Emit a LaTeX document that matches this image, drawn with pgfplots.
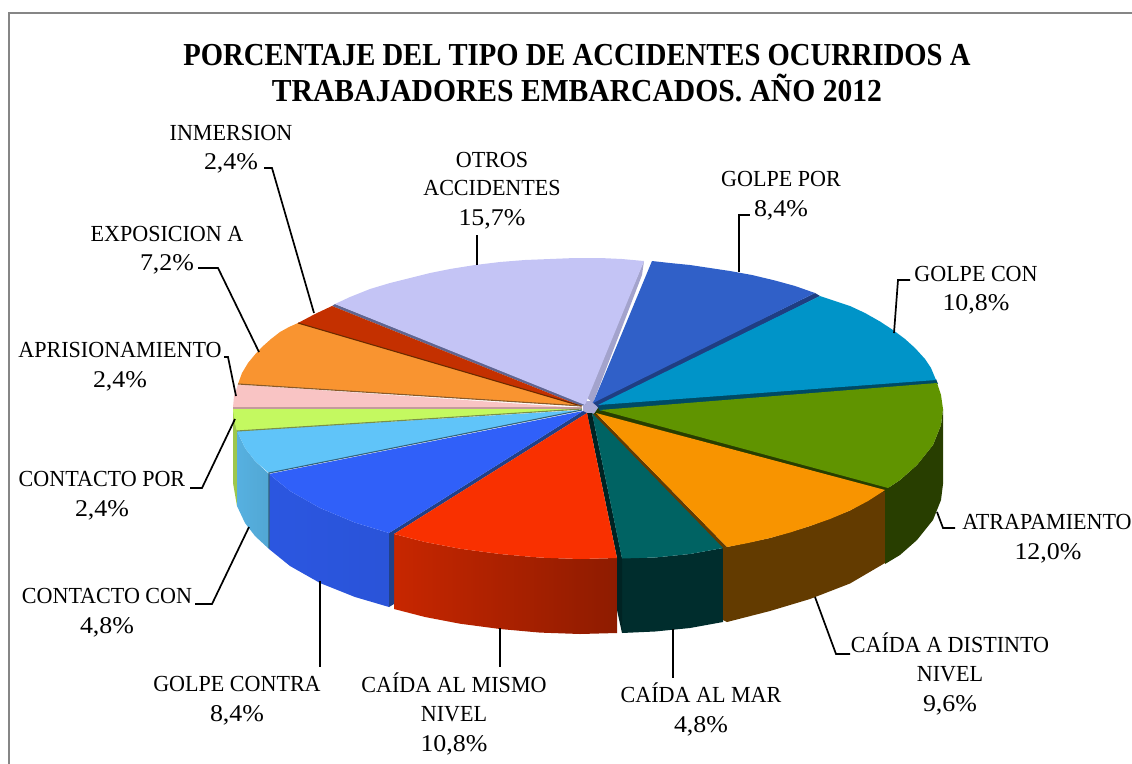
\documentclass[border=0pt]{standalone}
\usepackage{fontspec}
\setmainfont{Liberation Serif}
\usepackage{graphicx}
\usepackage{pgfplots}
\pgfplotsset{compat=1.18}
\definecolor{cOtros}{HTML}{C4C4F5}
\definecolor{cPor}{HTML}{3060C8}
\definecolor{cCon}{HTML}{0094C8}
\definecolor{cAtr}{HTML}{609400}
\definecolor{cDis}{HTML}{F89400}
\definecolor{cMar}{HTML}{006363}
\definecolor{cMis}{HTML}{F93000}
\definecolor{cCtr}{HTML}{3060F9}
\definecolor{cCco}{HTML}{60C4F9}
\definecolor{cCpo}{HTML}{C4F960}
\definecolor{cApr}{HTML}{F9C4C4}
\definecolor{cExp}{HTML}{F99430}
\definecolor{cInm}{HTML}{C43000}
\definecolor{frameG}{HTML}{868686}
\definecolor{lavA}{HTML}{A3A3CC}
\definecolor{lavB}{HTML}{A9A9D6}
\definecolor{lavC}{HTML}{5F6590}
\definecolor{seA}{HTML}{6B2A00}
\definecolor{seB}{HTML}{8A5A2A}
\definecolor{seC}{HTML}{C49B9B}
\definecolor{seD}{HTML}{7A8F4A}
\definecolor{seE}{HTML}{33617A}
\newcommand\poly[2]{\addplot[fill=#1,draw=none,no markers,forget plot] coordinates {#2};}
\newcommand\grad[3]{\addplot[left color=#1,right color=#2,draw=none,no markers,forget plot] coordinates {#3};}
\newcommand\leader[1]{\addplot[black,line width=1.7pt,no markers,forget plot] coordinates {#1};}
\newcommand\seam[2]{\addplot[#1,line width=1.1pt,no markers,forget plot] coordinates {#2};}
\newcommand\lab[3]{\node[anchor=base,inner sep=0pt,font=\fontsize{23}{23}\selectfont,yshift=-7pt] at (axis cs:#1,#2) {\scalebox{0.96}[1]{#3}};}
\newcommand\pct[3]{\node[anchor=base,inner sep=0pt,font=\fontsize{24}{24}\selectfont,yshift=-8pt] at (axis cs:#1,#2) {\scalebox{1.08}[1]{#3}};}
\newcommand\ttl[4]{\node[anchor=base,inner sep=0pt,font=\fontsize{32}{32}\selectfont\bfseries,yshift=-11pt] at (axis cs:#1,#2) {\scalebox{#3}[1]{#4}};}
\begin{document}
\begin{tikzpicture}
\useasboundingbox (0,0) rectangle (1132pt,763pt);
\begin{axis}[at={(0,0)},anchor=south west,scale only axis,width=1132pt,height=763pt,
  xmin=0,xmax=1132,ymin=0,ymax=763,y dir=reverse,hide axis,clip=true]
% frame
\addplot[frameG,line width=2pt,no markers,forget plot] coordinates {(9,770)(9,13)(1140,13)};
% outer walls
\poly{cCpo!80!black}{(233,408.5)(233,483)(237,506)(237,431)}
\grad{cCco!90!black}{cCco!85!black}{(237,431)(245,448)(255,461)(269,474)(269,549)(255,536)(245,523)(237,506)}
\grad{cCtr!90!black}{cCtr!87!black}{(269,474)(290,491)(320,508)(355,522.6)(389,533)(389,607)(355,597)(320,583)(290,566)(269,549)}
\grad{cMis!80!black}{cMis!57!black}{(394,534)(425,542)(460,548.7)(500,554)(540,557.6)(580,559)(617,558)(617,633)(580,634)(540,632.6)(500,629)(460,623.7)(425,617)(394,609)}
\poly{cMar!45!black}{(622,558)(655,557.5)(690,554)(723,548)(723,622)(690,628)(655,631.5)(622,633)}
\poly{cDis!40!black}{(723,548)(727,547)(770,538)(810,526)(850,510.5)(885,490)(885,563)(850,583.5)(810,599)(770,611)(727,622)(723,620)}
\poly{cAtr!42!black}{(885,490)(900,480)(917,465)(933,445)(941,425)(943,409)(943,484)(941,500)(933,520)(917,540)(900,555)(885,564)}
% centre
\poly{lavB}{(583,401)(600,401)(602,414)(592,436)(583,412)}
% radial walls
\poly{cPor!68!black}{(583,411)(389,533)(389,607)(394,604)(394,534)(587,413)}
\poly{cMar!35!black}{(592,413)(622,558)(622,633)(617,610)(617,558)(587,413)}
\poly{cDis!40!black}{(596,413)(727,547)(723,549)(592,414)}
\poly{cAtr!42!black}{(598,408)(889,487)(886,492)(594,414)}
\poly{cCon!50!black}{(596,404)(936,379)(938,384)(600,411)}
\poly{cPor!65!black}{(592,402)(815,293)(820,296)(598,407)}
\poly{lavA}{(644,261)(642,275)(593,403)(586,397)}
\poly{lavC}{(335,304)(332,306)(581,406)(586,404)}
% tops
\poly{cOtros}{(585,405)(335,304)(350,297)(370,289)(390,283)(410,278)(430,273)(450,269)(475,265)(500,262)(525,260)(550,259)(575,258)(600,258)(622,259)(644,261)}
\poly{cPor}{(593,403)(652,261)(670,263)(690,265)(710,268)(730,271)(752,275)(775,280.5)(795,286)(815,293)}
\poly{cCon}{(598,405)(820,296)(835,301)(850,306)(865,313)(880,321.5)(893,330)(905,339)(915,348)(925,359)(931,368)(936,380)}
\poly{cAtr}{(600,410)(937,383)(941,395)(943,409)(941,425)(933,445)(917,465)(900,480)(888,488)}
\poly{cDis}{(596,413)(885,490)(868,501)(850,510.5)(830,519)(810,526)(790,532.5)(770,538)(748,543)(727,547)}
\poly{cMar}{(592,413)(723,548)(690,554)(655,557.5)(622,558.5)}
\poly{cMis}{(587,413)(617,558)(580,559)(540,557.6)(500,554)(460,548.7)(425,542)(394,534)}
\poly{cCtr}{(583,411)(389,533)(355,522.6)(320,508)(290,491)(269,474)}
\poly{cCco}{(582,410)(269,473)(255,461)(245,448)(237,431)}
\poly{cCpo}{(582,409)(237,431)(234,420)(233,408.5)}
\poly{cApr}{(582,408)(233,407.5)(234,396)(238,384.5)}
\poly{cExp}{(582,406)(238,384)(242,373)(248,363)(255,354.5)(262,347)(271,339)(280,332)(289,327)(298,323)}
\poly{cInm}{(581,406)(298,323)(315,314)(332,306)}
% seams
\seam{seA}{(581,406)(298,323)}
\seam{seB}{(582,406)(238,384)}
\seam{seC}{(582,408)(233,408)}
\seam{seD}{(582,409)(237,431)}
\seam{seE}{(582,410)(269,473)(269,548)}
% leaders
\leader{(264,168)(272,168)(314,313)}
\leader{(198,268)(218,268)(259,352)}
\leader{(224,357)(228,357)(236,396)}
\leader{(190,488)(202,488)(235,419)}
\leader{(195,604)(212,604)(249,527)}
\leader{(320,581)(320,667)}
\leader{(500,628)(500,667)}
\leader{(673,629)(673,678)}
\leader{(815,597)(836,654)(850,654)}
\leader{(937,512)(943,528)(955,528)}
\leader{(894,333)(898,280)(910,280)}
\leader{(739,272)(739,215)(750,215)}
\leader{(477,265)(477,235)}
% title
\ttl{577}{54}{0.895}{PORCENTAJE DEL TIPO DE ACCIDENTES OCURRIDOS A}
\ttl{577}{90}{0.925}{TRABAJADORES EMBARCADOS. AÑO 2012}
% labels
\lab{231}{133}{INMERSION}\pct{231}{161}{2,4\%}
\lab{492}{160}{OTROS}\lab{492}{188}{ACCIDENTES}\pct{492}{217}{15,7\%}
\lab{781}{179}{GOLPE POR}\pct{781}{208}{8,4\%}
\lab{976}{274}{GOLPE CON}\pct{976}{302}{10,8\%}
\lab{1047}{522}{ATRAPAMIENTO}\pct{1048}{551}{12,0\%}
\lab{167}{234}{EXPOSICION A}\pct{167}{262}{7,2\%}
\lab{120}{350}{APRISIONAMIENTO}\pct{120}{379}{2,4\%}
\lab{102}{479}{CONTACTO POR}\pct{102}{508}{2,4\%}
\lab{107}{596}{CONTACTO CON}\pct{107}{625}{4,8\%}
\lab{237}{684}{GOLPE CONTRA}\pct{237}{713}{8,4\%}
\lab{454}{685}{CAÍDA AL MISMO}\lab{454}{714}{NIVEL}\pct{454}{743}{10,8\%}
\lab{701}{695}{CAÍDA AL MAR}\pct{701}{724}{4,8\%}
\lab{950}{645}{CAÍDA A DISTINTO}\lab{950}{674}{NIVEL}\pct{950}{703}{9,6\%}
\end{axis}
\end{tikzpicture}
\end{document}
